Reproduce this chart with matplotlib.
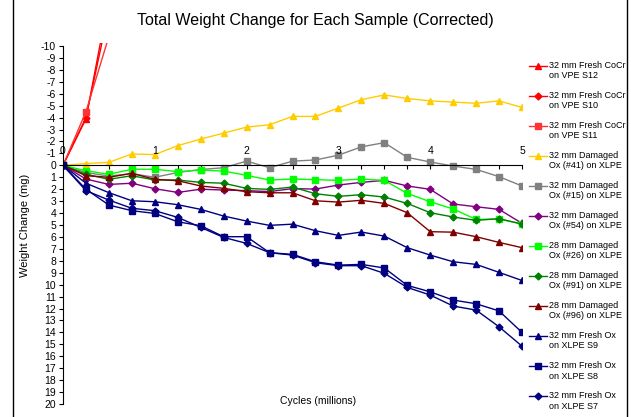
import matplotlib
matplotlib.use('Agg')
import matplotlib.pyplot as plt
from matplotlib.lines import Line2D
from matplotlib.legend_handler import HandlerLine2D
from matplotlib.transforms import Affine2D

plt.rcParams['font.family'] = ['Liberation Sans', 'DejaVu Sans']
plt.rcParams['axes.unicode_minus'] = False

cycles = [0, 0.25, 0.5, 0.75, 1.0, 1.25, 1.5, 1.75, 2.0, 2.25, 2.5,
          2.75, 3.0, 3.25, 3.5, 3.75, 4.0, 4.25, 4.5, 4.75, 5.0]

# CoCr heads run off the top of the chart after the first interval
cocr_s12 = [0, -3.9, -14.0]
cocr_s10 = [0, -4.0, -13.0]
cocr_s11 = [0, -4.5, -10.8]

ox41 = [0, -0.15, -0.25, -0.95, -0.9, -1.65, -2.2, -2.7, -3.2, -3.4, -4.1,
        -4.1, -4.8, -5.5, -5.9, -5.6, -5.4, -5.3, -5.2, -5.4, -4.85]
ox15 = [0, 0.6, 0.9, 0.7, 1.0, 0.6, 0.35, 0.2, -0.35, 0.2, -0.35,
        -0.45, -0.85, -1.55, -1.9, -0.67, -0.28, 0.06, 0.34, 0.95, 1.73]
ox54 = [0, 1.15, 1.6, 1.5, 1.96, 2.27, 2.0, 2.07, 2.12, 2.2, 1.95,
        1.99, 1.65, 1.43, 1.26, 1.73, 2.01, 3.24, 3.47, 3.69, 4.86]
ox26 = [0, 0.45, 0.75, 0.33, 0.33, 0.53, 0.4, 0.48, 0.84, 1.23, 1.15,
        1.2, 1.26, 1.15, 1.26, 2.35, 3.05, 3.66, 4.53, 4.5, 4.92]
ox91 = [0, 0.75, 1.17, 0.87, 1.23, 1.23, 1.43, 1.5, 1.93, 2.02, 1.82,
        2.38, 2.6, 2.46, 2.66, 3.19, 3.97, 4.33, 4.61, 4.47, 4.92]
ox96 = [0, 0.87, 1.0, 0.67, 1.17, 1.29, 1.73, 1.93, 2.21, 2.3, 2.3,
        2.97, 3.08, 2.93, 3.19, 3.97, 5.56, 5.6, 5.98, 6.46, 6.9]
ox_s9 = [0, 1.5, 2.29, 2.97, 3.05, 3.3, 3.69, 4.25, 4.67, 5.03, 4.93,
         5.48, 5.87, 5.59, 5.93, 6.9, 7.52, 8.08, 8.3, 8.97, 9.65]
ox_s8 = [0, 2.0, 3.33, 3.8, 4.03, 4.73, 5.06, 5.98, 5.98, 7.32, 7.46,
         8.08, 8.36, 8.3, 8.6, 10.06, 10.6, 11.29, 11.6, 12.2, 14.0]
ox_s7 = [0, 2.12, 2.91, 3.6, 3.8, 4.36, 5.2, 6.04, 6.54, 7.32, 7.52,
         8.16, 8.41, 8.41, 9.05, 10.23, 10.87, 11.79, 12.13, 13.53, 15.15]

series = [
    ('32 mm Fresh CoCr\non VPE S12', cocr_s12, '#FF0000', '^'),
    ('32 mm Fresh CoCr\non VPE S10', cocr_s10, '#FF0000', 'D'),
    ('32 mm Fresh CoCr\non VPE S11', cocr_s11, '#FF3333', 's'),
    ('32 mm Damaged\nOx (#41) on XLPE', ox41, '#FFCC00', '^'),
    ('32 mm Damaged\nOx (#15) on XLPE', ox15, '#808080', 's'),
    ('32 mm Damaged\nOx (#54) on XLPE', ox54, '#800080', 'D'),
    ('28 mm Damaged\nOx (#26) on XLPE', ox26, '#00FF00', 's'),
    ('28 mm Damaged\nOx (#91) on XLPE', ox91, '#008000', 'D'),
    ('28 mm Damaged\nOx (#96) on XLPE', ox96, '#800000', '^'),
    ('32 mm Fresh Ox\non XLPE S9', ox_s9, '#000080', '^'),
    ('32 mm Fresh Ox\non XLPE S8', ox_s8, '#000080', 's'),
    ('32 mm Fresh Ox\non XLPE S7', ox_s7, '#000080', 'D'),
]


class TopHandler(HandlerLine2D):
    # put the legend sample level with the first text line
    def create_artists(self, legend, orig_handle, xdescent, ydescent,
                       width, height, fontsize, trans):
        arts = super().create_artists(legend, orig_handle, xdescent, ydescent,
                                      width, height, fontsize, trans)
        shift = Affine2D().translate(0, fontsize * 0.55)
        for a in arts:
            a.set_transform(shift + a.get_transform())
        return arts


fig = plt.figure(figsize=(6.31, 4.17), dpi=100)
ax = fig.add_axes([63 / 631, 9.4 / 417, 459 / 631, 364.6 / 417])

handles = []
for label, vals, color, mk in series:
    ms = 3.5 if mk == 'D' else 4.6
    ln, = ax.plot(cycles[:len(vals)], vals, color=color, marker=mk,
                  markersize=ms, linewidth=1, label=label)
    handles.append(ln)

ax.set_xlim(0, 5)
ax.set_ylim(20.3, -10.25)

ax.spines['top'].set_visible(False)
ax.spines['right'].set_visible(False)
ax.spines['bottom'].set_position(('data', 0))
ax.spines['left'].set_bounds(20, -10)

ax.set_yticks(range(-10, 21))
ax.tick_params(axis='y', direction='out', length=3, labelsize=7.5, pad=2)
ax.set_xticks([c for c in cycles])
ax.tick_params(axis='x', direction='out', length=3, labelbottom=False)
for v in range(6):
    ax.text(v, -0.75, str(v), ha='center', va='bottom', fontsize=7.5)

ax.set_ylabel('Weight Change (mg)', fontsize=8, labelpad=8)
fig.text(318 / 631, 1 - 401 / 417, 'Cycles (millions)', ha='center',
         va='center', fontsize=7.5)
fig.suptitle('Total Weight Change for Each Sample (Corrected)',
             x=0.5, y=1 - 20 / 417, va='center', fontsize=11.5)

fig.legend(handles=handles, loc='upper left',
           bbox_to_anchor=(525 / 631, 1 - 57 / 417), frameon=False,
           fontsize=6.5, handlelength=2.0, handletextpad=0.3,
           labelspacing=1.18, borderaxespad=0,
           handler_map={Line2D: TopHandler()})

fig.add_artist(Line2D([13 / 631, 13 / 631], [0, 1], color='black', lw=1))
fig.add_artist(Line2D([627 / 631, 627 / 631], [0, 1], color='black', lw=1))

fig.savefig('out.png', dpi=100)
